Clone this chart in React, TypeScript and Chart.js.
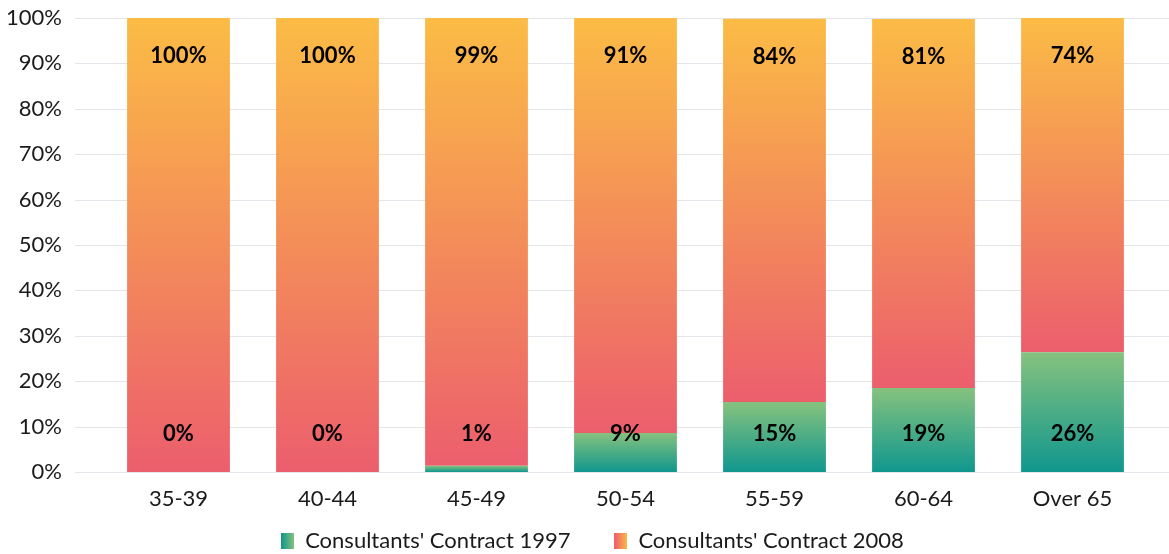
import React, { useEffect, useRef } from 'react';
import { Chart, registerables } from 'chart.js';

Chart.register(...registerables);

const categories = ['35-39', '40-44', '45-49', '50-54', '55-59', '60-64', 'Over 65'];
const contract1997 = [0, 0, 1.4, 8.6, 15.4, 18.5, 26.4];
const contract2008 = [100, 100, 98.6, 91.4, 84.45, 81.3, 73.6];
const seriesNames = ["Consultants' Contract 1997", "Consultants' Contract 2008"];
const yTickValues = [0, 10, 20, 30, 40, 50, 60, 70, 80, 90, 100];

const greenStops = ['#10978e', '#86c27e'];
const orangeStops = ['#ec5e6d', '#fbbc45'];
const gridColor = '#e3e5ea';
const textColor = '#1a1a1a';
const FONT = 'Lato';

function segmentGradient(ctx: any, stops: string[], which: number) {
  const chart = ctx.chart;
  const y = chart.scales && chart.scales.y;
  if (!y || ctx.type !== 'data') return stops[1];
  const i = ctx.dataIndex;
  const base = which === 0 ? 0 : contract1997[i];
  const top = base + (which === 0 ? contract1997[i] : contract2008[i]);
  const yb = y.getPixelForValue(base);
  let yt = y.getPixelForValue(top);
  if (Math.abs(yb - yt) < 1) yt = yb - 1;
  const g = chart.ctx.createLinearGradient(0, yb, 0, yt);
  g.addColorStop(0, stops[0]);
  g.addColorStop(1, stops[1]);
  return g;
}

function legendSwatch(stops: string[]) {
  const c = document.createElement('canvas');
  c.width = 13;
  c.height = 16;
  const cx = c.getContext('2d')!;
  const g = cx.createLinearGradient(0, 0, 13, 0);
  g.addColorStop(0, stops[0]);
  g.addColorStop(1, stops[1]);
  cx.fillStyle = g;
  cx.fillRect(0, 0, 13, 16);
  return c;
}

const gridPlugin = {
  id: 'fullGrid',
  afterLayout(chart: any) {
    if (chart.legend) {
      chart.legend.left += 19;
      chart.legend.right += 19;
    }
  },
  beforeDatasetsDraw(chart: any) {
    const y = chart.scales.y;
    const ctx = chart.ctx;
    ctx.save();
    ctx.strokeStyle = gridColor;
    ctx.lineWidth = 1;
    y.ticks.forEach((t: any) => {
      const py = Math.round(y.getPixelForValue(t.value)) + 0.5;
      ctx.beginPath();
      ctx.moveTo(75, py);
      ctx.lineTo(chart.width, py);
      ctx.stroke();
    });
    ctx.restore();
  },
};

const labelPlugin = {
  id: 'barLabels',
  afterDatasetsDraw(chart: any) {
    const ctx = chart.ctx;
    ctx.save();
    ctx.font = `bold 22px ${FONT}`;
    ctx.fillStyle = '#000';
    ctx.textAlign = 'center';
    ctx.textBaseline = 'middle';
    const m0 = chart.getDatasetMeta(0);
    const m1 = chart.getDatasetMeta(1);
    m0.data.forEach((bar: any, i: number) => {
      const p = bar.getProps(['x', 'base'], true);
      ctx.fillText(Math.round(contract1997[i]) + '%', p.x, p.base - 38);
    });
    m1.data.forEach((bar: any, i: number) => {
      const p = bar.getProps(['x', 'y'], true);
      ctx.fillText(Math.round(contract2008[i]) + '%', p.x, p.y + 38);
    });
    ctx.restore();
  },
};

export default function App() {
  const ref = useRef<HTMLCanvasElement>(null);
  useEffect(() => {
    if (!ref.current) return;
    const swatches = [legendSwatch(greenStops), legendSwatch(orangeStops)];
    const chart = new Chart(ref.current, {
      type: 'bar',
      data: {
        labels: categories,
        datasets: [
          {
            label: seriesNames[0],
            data: contract1997,
            backgroundColor: (c: any) => segmentGradient(c, greenStops, 0),
            borderWidth: 0,
            categoryPercentage: 1,
            barPercentage: 0.69,
          },
          {
            label: seriesNames[1],
            data: contract2008,
            backgroundColor: (c: any) => segmentGradient(c, orangeStops, 1),
            borderWidth: 0,
            categoryPercentage: 1,
            barPercentage: 0.69,
          },
        ],
      },
      options: {
        responsive: false,
        animation: false,
        layout: { padding: { left: 0, right: 22, top: 18, bottom: -8 } },
        scales: {
          x: {
            stacked: true,
            grid: { display: false, drawTicks: false },
            border: { display: false },
            ticks: { color: textColor, font: { family: FONT, size: 22 }, padding: 14, maxRotation: 0 },
            afterFit: (s: any) => { s.height = 48; },
          },
          y: {
            stacked: true,
            min: 0,
            max: 100,
            grid: { display: false, drawTicks: true, tickLength: 42 },
            border: { display: false },
            afterBuildTicks: (s: any) => { s.ticks = yTickValues.map((v) => ({ value: v })); },
            ticks: {
              color: textColor,
              font: { family: FONT, size: 22 },
              padding: 0,
              callback: (v: any) => v + '%',
            },
            afterFit: (s: any) => { s.width = 104; },
          },
        },
        plugins: {
          tooltip: { enabled: false },
          legend: {
            position: 'bottom',
            labels: {
              usePointStyle: true,
              pointStyleWidth: 13,
              boxHeight: 16,
              padding: 10,
              color: textColor,
              font: { family: FONT, size: 22 },
              generateLabels: () =>
                seriesNames.map((n, i) => ({
                  text: i === 0 ? n + '      ' : n,
                  pointStyle: swatches[i],
                  fillStyle: 'transparent',
                  strokeStyle: 'transparent',
                  lineWidth: 0,
                  hidden: false,
                  datasetIndex: i,
                  fontColor: textColor,
                })),
            },
          },
        },
      },
      plugins: [gridPlugin, labelPlugin],
    } as any);
    return () => chart.destroy();
  }, []);
  return (
    <canvas
      ref={ref}
      width={1169}
      height={554}
      style={{ position: 'absolute', left: 0, top: 0, display: 'block' }}
    />
  );
}
